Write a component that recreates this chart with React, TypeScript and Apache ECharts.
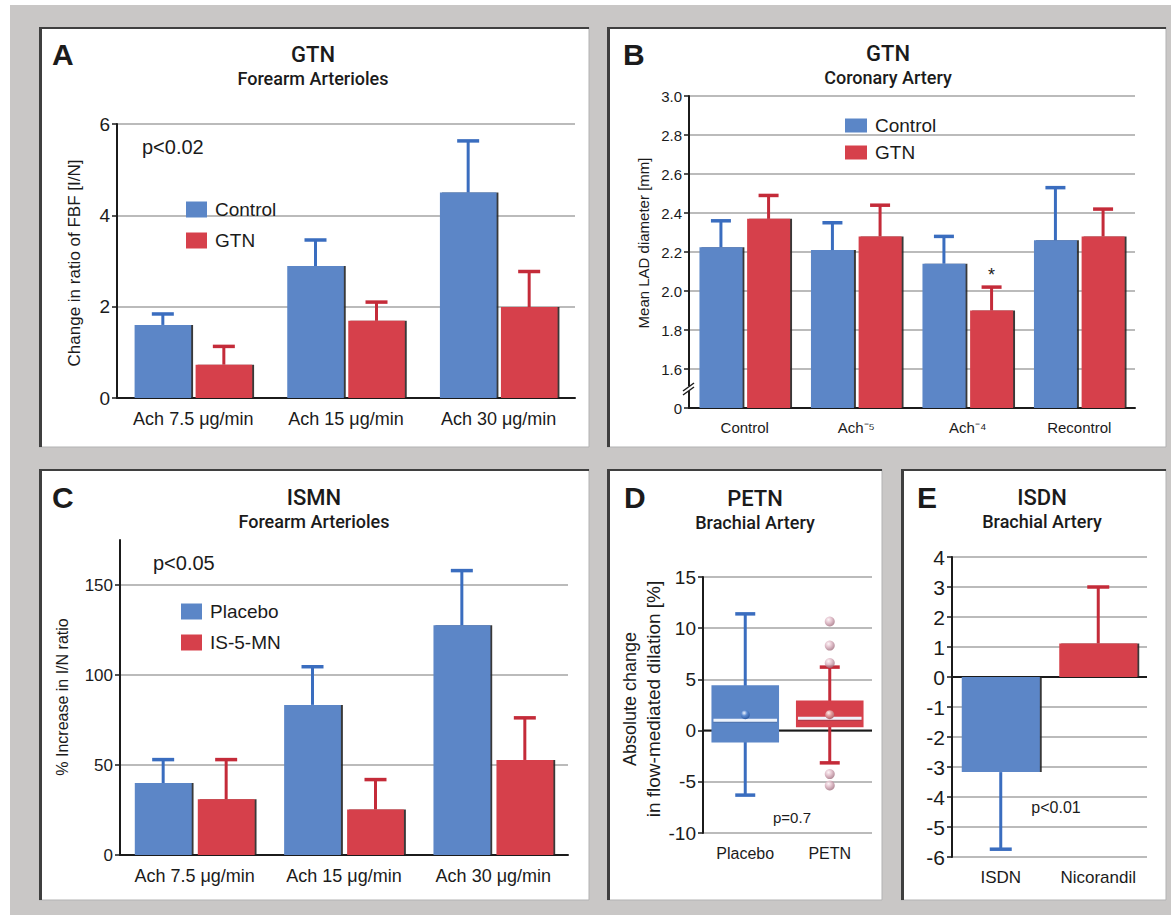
import React, { useEffect, useRef } from 'react';
import * as echarts from 'echarts';

/* A – GTN, forearm arterioles: change in ratio of FBF (I/N) */
const ACH_DOSES = ['Ach 7.5 μg/min', 'Ach 15 μg/min', 'Ach 30 μg/min'];
const FBF_CONTROL = [1.6, 2.89, 4.5];
const FBF_CONTROL_UPPER = [1.84, 3.46, 5.63];
const FBF_GTN = [0.73, 1.69, 1.99];
const FBF_GTN_UPPER = [1.13, 2.1, 2.77];
const FBF_TICK_LABELS = [0, 2, 4, 6];

/* B – GTN, coronary artery: mean LAD diameter (mm), axis broken below 1.6 */
const LAD_STAGES = ['Control', 'Ach⁻⁵', 'Ach⁻⁴', 'Recontrol'];
const LAD_CONTROL = [2.225, 2.21, 2.14, 2.26];
const LAD_CONTROL_UPPER = [2.36, 2.35, 2.28, 2.53];
const LAD_GTN = [2.37, 2.28, 1.9, 2.28];
const LAD_GTN_UPPER = [2.49, 2.44, 2.02, 2.42];
const LAD_SIGNIFICANT = [false, false, true, false];

/* C – ISMN, forearm arterioles: % increase in I/N ratio */
const ISMN_PLACEBO = [40, 83.4, 127.7];
const ISMN_PLACEBO_UPPER = [53, 104.6, 158];
const ISMN_IS5MN = [31, 25.3, 52.8];
const ISMN_IS5MN_UPPER = [53, 41.9, 76.2];
const ISMN_TICK_LABELS = [0, 50, 100, 150];

/* D – PETN, brachial artery: absolute change in FMD (%) */
const FMD_GROUPS = ['Placebo', 'PETN'];
const FMD_LOWER_WHISKER = [-6.3, -3.15];
const FMD_Q1 = [-1.17, 0.33];
const FMD_MEDIAN = [1.02, 1.2];
const FMD_Q3 = [4.43, 2.95];
const FMD_UPPER_WHISKER = [11.4, 6.2];
const FMD_MEAN = [1.56, 1.56];
const FMD_PETN_OUTLIERS = [10.65, 8.3, 6.6, -4.25, -5.35];

/* E – ISDN vs nicorandil, brachial artery */
const ISDN_GROUPS = ['ISDN', 'Nicorandil'];
const ISDN_CHANGE = [-3.17, 1.12];
const ISDN_ERROR_END = [-5.74, 3.0];

const SANS = '"Liberation Sans", Arial, Helvetica, sans-serif';
const NARROW = '"Liberation Sans Narrow", "Arial Narrow", "Liberation Sans", sans-serif';
const HEAD = 'Roboto, "Liberation Sans", Arial, sans-serif';

const BLUE = '#5b86c7';
const BLUE_DARK = '#3a6dbf';
const RED = '#d6404b';
const RED_DARK = '#c42b39';
const INK = '#1b1b1b';
const RULE = '#a4a4a4';
const FRAME_BG = '#c9c7c6';
const PANEL_EDGE = '#3f3f3f';

const barStyle = (color: string) => ({
  color,
  shadowColor: 'rgba(35,35,35,0.9)',
  shadowOffsetX: 2,
  shadowOffsetY: 0,
  shadowBlur: 0,
});

function valueAxis(
  gridIndex: number,
  min: number,
  max: number,
  interval: number,
  fontSize: number,
  opts: { labels?: number[]; fontFamily?: string; formatter?: (v: number) => string } = {}
) {
  const tick: any = { show: true, length: 5, lineStyle: { color: INK, width: 1.5 } };
  const label: any = { fontSize, color: INK, margin: 7, fontFamily: opts.fontFamily || SANS };
  if (opts.labels) {
    tick.customValues = opts.labels;
    label.customValues = opts.labels;
  }
  if (opts.formatter) label.formatter = opts.formatter;
  return {
    type: 'value',
    gridIndex,
    min,
    max,
    interval,
    axisLine: { show: true, lineStyle: { color: INK, width: 2 } },
    axisTick: tick,
    axisLabel: label,
    splitLine: { show: true, lineStyle: { color: RULE, width: 1.5 } },
  };
}

function categoryAxis(gridIndex: number, data: string[], fontSize: number, showLine: boolean, fontFamily = SANS) {
  return {
    type: 'category',
    gridIndex,
    data,
    axisLine: { show: showLine, onZero: false, lineStyle: { color: INK, width: 2 } },
    axisTick: { show: false },
    axisLabel: { fontSize, color: INK, margin: 12, interval: 0, fontFamily },
    splitLine: { show: false },
  };
}

// Upper (or lower) error whisker with a cap, placed over one bar of a grouped pair
function errorBars(
  axis: number,
  base: number[],
  end: number[],
  color: string | string[],
  side: number,
  widthPct: number,
  gapPct: number,
  capHalf: number
) {
  return {
    type: 'custom',
    xAxisIndex: axis,
    yAxisIndex: axis,
    z: 4,
    silent: true,
    data: base.map((b, i) => [i, b, end[i]]),
    renderItem: (_params: any, api: any) => {
      const i = api.value(0);
      const from = api.coord([i, api.value(1)]);
      const to = api.coord([i, api.value(2)]);
      const band = api.size([1, 0])[0];
      const w = band * widthPct;
      const cx = from[0] + (side * (w + w * gapPct)) / 2;
      const stroke = Array.isArray(color) ? color[i] : color;
      return {
        type: 'group',
        children: [
          { type: 'line', shape: { x1: cx, y1: from[1], x2: cx, y2: to[1] }, style: { stroke, lineWidth: 3 } },
          {
            type: 'line',
            shape: { x1: cx - capHalf, y1: to[1], x2: cx + capHalf, y2: to[1] },
            style: { stroke, lineWidth: 3.5 },
          },
        ],
      };
    },
  };
}

function zeroLine(axis: number) {
  return {
    type: 'custom',
    xAxisIndex: axis,
    yAxisIndex: axis,
    z: 2,
    silent: true,
    data: [[0, 0]],
    renderItem: (params: any, api: any) => {
      const cs = params.coordSys;
      const y = api.coord([0, 0])[1];
      return {
        type: 'line',
        shape: { x1: cs.x, y1: y, x2: cs.x + cs.width, y2: y },
        style: { stroke: INK, lineWidth: 2 },
      };
    },
  };
}

const sphere = (inner: string, mid: string, outer: string) =>
  new echarts.graphic.RadialGradient(0.38, 0.32, 0.72, [
    { offset: 0, color: inner },
    { offset: 0.45, color: mid },
    { offset: 1, color: outer },
  ]);

// panel frames: [x, y, width, height]
const PANELS = [
  [39, 27, 550, 420],
  [607, 27, 559, 420],
  [39, 469, 550, 431],
  [607, 469, 275, 431],
  [901, 469, 265, 431],
];

function text(x: number, y: number, t: string, fontSize: number, extra: any = {}) {
  const { rotation, align, fontWeight, fontFamily } = extra;
  return {
    type: 'text',
    x,
    y,
    rotation: rotation || 0,
    z: 10,
    style: {
      text: t,
      fontSize,
      fontFamily: fontFamily || SANS,
      fontWeight: fontWeight || 'normal',
      fill: INK,
      align: align || 'center',
      verticalAlign: 'middle',
    },
  };
}

function buildOption(): any {
  const graphic: any[] = [
    { type: 'rect', shape: { x: 10, y: 5, width: 1161, height: 910 }, style: { fill: FRAME_BG }, z: -30 },
  ];
  PANELS.forEach(([x, y, w, h]) => {
    graphic.push({ type: 'rect', shape: { x, y, width: w, height: h }, style: { fill: '#ffffff' }, z: -29 });
    graphic.push({
      type: 'line',
      shape: { x1: x + w, y1: y, x2: x + w, y2: y + h },
      style: { stroke: '#b3b3b3', lineWidth: 1 },
      z: -28,
    });
    graphic.push({
      type: 'line',
      shape: { x1: x, y1: y + h, x2: x + w, y2: y + h },
      style: { stroke: '#b3b3b3', lineWidth: 1 },
      z: -28,
    });
    graphic.push({
      type: 'line',
      shape: { x1: x, y1: y + 1, x2: x + w, y2: y + 1 },
      style: { stroke: PANEL_EDGE, lineWidth: 2 },
      z: -27,
    });
    graphic.push({
      type: 'line',
      shape: { x1: x + 1.5, y1: y, x2: x + 1.5, y2: y + h },
      style: { stroke: PANEL_EDGE, lineWidth: 3 },
      z: -27,
    });
  });

  // panel letters
  graphic.push(text(52, 54, 'A', 30, { align: 'left', fontWeight: 'bold' }));
  graphic.push(text(623, 54, 'B', 30, { align: 'left', fontWeight: 'bold' }));
  graphic.push(text(52, 497, 'C', 30, { align: 'left', fontWeight: 'bold' }));
  graphic.push(text(624, 497, 'D', 30, { align: 'left', fontWeight: 'bold' }));
  graphic.push(text(917, 497, 'E', 30, { align: 'left', fontWeight: 'bold' }));

  // panel headings
  const heads: [number, number, string, string][] = [
    [313, 54, 'GTN', 'Forearm Arterioles'],
    [888, 53, 'GTN', 'Coronary Artery'],
    [314, 497, 'ISMN', 'Forearm Arterioles'],
    [755, 498, 'PETN', 'Brachial Artery'],
    [1042, 497, 'ISDN', 'Brachial Artery'],
  ];
  heads.forEach(([cx, cy, t, sub]) => {
    graphic.push(text(cx, cy, t, 22, { fontFamily: HEAD, fontWeight: 500 }));
    graphic.push(text(cx, cy + 24, sub, 18, { fontFamily: HEAD, fontWeight: 500 }));
  });

  // y-axis titles
  graphic.push(text(74, 263, 'Change in ratio of FBF [I/N]', 17, { rotation: Math.PI / 2 }));
  graphic.push(text(643, 243, 'Mean LAD diameter [mm]', 15, { rotation: Math.PI / 2 }));
  graphic.push(text(62, 697, '% Increase in I/N ratio', 16, { rotation: Math.PI / 2 }));
  graphic.push(text(630, 699, 'Absolute change', 18, { rotation: Math.PI / 2 }));
  graphic.push(text(653, 699, 'in flow-mediated dilation [%]', 19, { rotation: Math.PI / 2 }));

  // significance notes
  graphic.push(text(142, 147, 'p<0.02', 20, { align: 'left' }));
  graphic.push(text(153, 563, 'p<0.05', 20, { align: 'left' }));
  graphic.push(text(792, 817, 'p=0.7', 15, { fontFamily: NARROW }));
  graphic.push(text(1056, 807, 'p<0.01', 16));

  // axis break mark on panel B
  graphic.push({ type: 'rect', shape: { x: 684, y: 386, width: 9, height: 5 }, style: { fill: '#ffffff' }, z: 20 });
  graphic.push({
    type: 'line',
    shape: { x1: 683, y1: 391, x2: 694, y2: 383 },
    style: { stroke: INK, lineWidth: 1.5 },
    z: 21,
  });
  graphic.push({
    type: 'line',
    shape: { x1: 683, y1: 395, x2: 694, y2: 387 },
    style: { stroke: INK, lineWidth: 1.5 },
    z: 21,
  });

  const legendCommon = {
    orient: 'vertical',
    icon: 'rect',
    selectedMode: false,
    itemHeight: 16,
    itemWidth: 21,
    textStyle: { fontSize: 19, color: INK, fontFamily: SANS, padding: [0, 0, 0, 3] },
  };

  const starSeriesData: number[][] = [];
  LAD_SIGNIFICANT.forEach((s, i) => {
    if (s) starSeriesData.push([i, LAD_GTN_UPPER[i]]);
  });

  return {
    animation: false,
    backgroundColor: '#ffffff',
    textStyle: { fontFamily: SANS },
    graphic,
    legend: [
      { ...legendCommon, data: ['Control', 'GTN'], left: 181, top: 195, itemGap: 12 },
      { ...legendCommon, data: ['Control', 'GTN'], left: 840, top: 111, itemGap: 8, itemHeight: 14, itemWidth: 22 },
      { ...legendCommon, data: ['Placebo', 'IS-5-MN'], left: 176, top: 597, itemGap: 12 },
    ],
    grid: [
      { left: 117, top: 124, width: 458, height: 274 },
      { left: 689, top: 96, width: 446, height: 312 },
      { left: 120, top: 540, width: 448, height: 315 },
      { left: 703, top: 577, width: 169, height: 256 },
      { left: 952, top: 557, width: 195, height: 300 },
    ],
    xAxis: [
      categoryAxis(0, ACH_DOSES, 18, true),
      categoryAxis(1, LAD_STAGES, 15, true),
      categoryAxis(2, ACH_DOSES, 18, true),
      categoryAxis(3, FMD_GROUPS, 16, false),
      categoryAxis(4, ISDN_GROUPS, 17, false),
    ],
    yAxis: [
      valueAxis(0, 0, 6, 1, 19, { labels: FBF_TICK_LABELS }),
      valueAxis(1, 1.4, 3.0, 0.2, 15, {
        fontFamily: NARROW,
        formatter: (v: number) => (v < 1.5 ? '0' : v.toFixed(1)),
      }),
      valueAxis(2, 0, 175, 25, 17, { labels: ISMN_TICK_LABELS }),
      valueAxis(3, -10, 15, 5, 19),
      valueAxis(4, -6, 4, 1, 21),
    ],
    series: [
      // A
      { type: 'bar', name: 'Control', xAxisIndex: 0, yAxisIndex: 0, data: FBF_CONTROL, barWidth: '37%', barGap: '8%', itemStyle: barStyle(BLUE), silent: true },
      { type: 'bar', name: 'GTN', xAxisIndex: 0, yAxisIndex: 0, data: FBF_GTN, barWidth: '37%', barGap: '8%', itemStyle: barStyle(RED), silent: true },
      errorBars(0, FBF_CONTROL, FBF_CONTROL_UPPER, BLUE_DARK, -1, 0.37, 0.08, 11),
      errorBars(0, FBF_GTN, FBF_GTN_UPPER, RED_DARK, 1, 0.37, 0.08, 11),
      // B
      { type: 'bar', name: 'Control', xAxisIndex: 1, yAxisIndex: 1, data: LAD_CONTROL, barWidth: '38.5%', barGap: '11%', itemStyle: barStyle(BLUE), silent: true },
      { type: 'bar', name: 'GTN', xAxisIndex: 1, yAxisIndex: 1, data: LAD_GTN, barWidth: '38.5%', barGap: '11%', itemStyle: barStyle(RED), silent: true },
      errorBars(1, LAD_CONTROL, LAD_CONTROL_UPPER, BLUE_DARK, -1, 0.385, 0.11, 10),
      errorBars(1, LAD_GTN, LAD_GTN_UPPER, RED_DARK, 1, 0.385, 0.11, 10),
      {
        type: 'custom',
        xAxisIndex: 1,
        yAxisIndex: 1,
        z: 5,
        silent: true,
        data: starSeriesData,
        renderItem: (_p: any, api: any) => {
          const pt = api.coord([api.value(0), api.value(1)]);
          const w = api.size([1, 0])[0] * 0.385;
          const cx = pt[0] + (w + w * 0.11) / 2;
          return {
            type: 'text',
            x: cx,
            y: pt[1] - 12,
            style: { text: '*', fontSize: 18, fill: INK, align: 'center', verticalAlign: 'middle', fontFamily: SANS },
          };
        },
      },
      // C
      { type: 'bar', name: 'Placebo', xAxisIndex: 2, yAxisIndex: 2, data: ISMN_PLACEBO, barWidth: '38%', barGap: '11%', itemStyle: barStyle(BLUE), silent: true },
      { type: 'bar', name: 'IS-5-MN', xAxisIndex: 2, yAxisIndex: 2, data: ISMN_IS5MN, barWidth: '38%', barGap: '11%', itemStyle: barStyle(RED), silent: true },
      errorBars(2, ISMN_PLACEBO, ISMN_PLACEBO_UPPER, BLUE_DARK, -1, 0.38, 0.11, 11),
      errorBars(2, ISMN_IS5MN, ISMN_IS5MN_UPPER, RED_DARK, 1, 0.38, 0.11, 11),
      // D
      zeroLine(3),
      {
        type: 'custom',
        xAxisIndex: 3,
        yAxisIndex: 3,
        z: 3,
        silent: true,
        data: FMD_GROUPS.map((_, i) => [
          i,
          FMD_LOWER_WHISKER[i],
          FMD_Q1[i],
          FMD_MEDIAN[i],
          FMD_Q3[i],
          FMD_UPPER_WHISKER[i],
          FMD_MEAN[i],
        ]),
        renderItem: (_p: any, api: any) => {
          const i = api.value(0);
          const cx = api.coord([i, 0])[0];
          const y = (d: number) => api.coord([i, api.value(d)])[1];
          const hw = api.size([1, 0])[0] * 0.4;
          const fill = i === 0 ? BLUE : RED;
          const stroke = i === 0 ? BLUE_DARK : RED_DARK;
          const lo = y(1);
          const q1 = y(2);
          const med = y(3);
          const q3 = y(4);
          const hi = y(5);
          const mean = y(6);
          const dot =
            i === 0
              ? sphere('#eef4ff', '#5b8ad0', '#2d5aa2')
              : sphere('#fdf0ee', '#e39c9c', '#b0626a');
          return {
            type: 'group',
            children: [
              { type: 'line', shape: { x1: cx, y1: hi, x2: cx, y2: lo }, style: { stroke, lineWidth: 3 } },
              { type: 'line', shape: { x1: cx - 10, y1: hi, x2: cx + 10, y2: hi }, style: { stroke, lineWidth: 3.5 } },
              { type: 'line', shape: { x1: cx - 10, y1: lo, x2: cx + 10, y2: lo }, style: { stroke, lineWidth: 3.5 } },
              { type: 'rect', shape: { x: cx - hw, y: q3, width: 2 * hw, height: q1 - q3 }, style: { fill } },
              {
                type: 'line',
                shape: { x1: cx - hw + 2, y1: med + 1.8, x2: cx + hw - 2, y2: med + 1.8 },
                style: { stroke: 'rgba(40,40,70,0.35)', lineWidth: 1 },
              },
              {
                type: 'line',
                shape: { x1: cx - hw + 2, y1: med, x2: cx + hw - 2, y2: med },
                style: { stroke: '#eef3fb', lineWidth: 3 },
              },
              { type: 'circle', shape: { cx, cy: mean, r: 4.5 }, style: { fill: dot } },
            ],
          };
        },
      },
      {
        type: 'scatter',
        xAxisIndex: 3,
        yAxisIndex: 3,
        z: 4,
        silent: true,
        symbolSize: 10,
        data: FMD_PETN_OUTLIERS.map((v) => [1, v]),
        itemStyle: { color: sphere('#fdf3f6', '#dcb3c1', '#9b6878') },
      },
      // E
      zeroLine(4),
      {
        type: 'bar',
        name: 'Change',
        xAxisIndex: 4,
        yAxisIndex: 4,
        barWidth: '80%',
        z: 3,
        silent: true,
        data: ISDN_CHANGE.map((v, i) => ({ value: v, itemStyle: barStyle(i === 0 ? BLUE : RED) })),
      },
      errorBars(4, ISDN_CHANGE, ISDN_ERROR_END, [BLUE_DARK, RED_DARK], 0, 0.8, 0, 11),
    ],
  };
}

export default function App() {
  const ref = useRef<HTMLDivElement>(null);
  useEffect(() => {
    if (!ref.current) return;
    const chart = echarts.init(ref.current, undefined, { renderer: 'svg' });
    chart.setOption(buildOption());
    return () => chart.dispose();
  }, []);
  return <div ref={ref} style={{ position: 'absolute', left: 0, top: 0, width: 1171, height: 915 }} />;
}
